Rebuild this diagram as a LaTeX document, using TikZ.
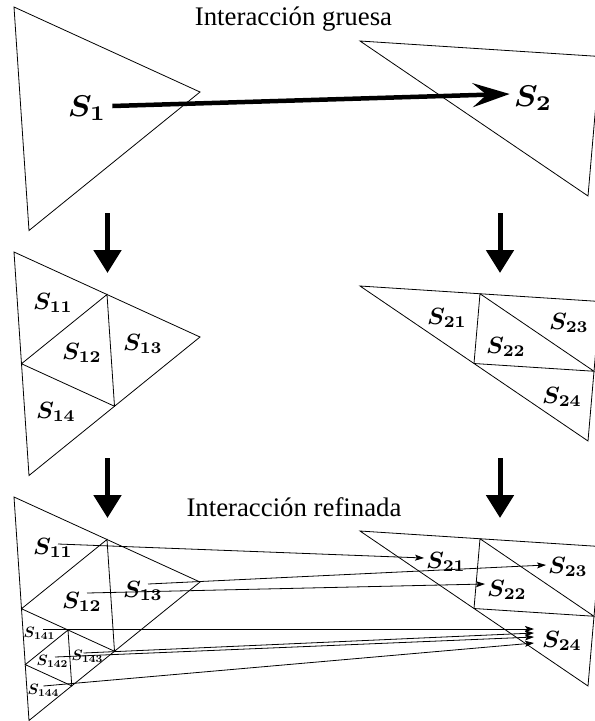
\documentclass[tikz,border=0pt]{standalone}
\usepackage[no-math]{fontspec}
\newfontfamily\titlefont{Liberation Serif}
\usetikzlibrary{calc,arrows.meta}
\newcommand{\labfont}{\boldmath}
\newcommand{\bigS}[1]{\scalebox{3.2}[3.0]{\labfont$S_{#1}$}}
\newcommand{\midS}[1]{\scalebox{2.4}[2.35]{\labfont$S_{#1}$}}
\newcommand{\smlS}[1]{\scalebox{1.5}[1.5]{\labfont$S_{#1}$}}
\begin{document}
\begin{tikzpicture}[x=1pt,y=-1pt,
  tri/.style={line width=0.8pt,line join=miter},
  lbl/.style={inner sep=0pt},
  title/.style={anchor=base,inner sep=0pt,font=\titlefont\fontsize{26.8}{30}\selectfont},
  bigarrow/.style={line width=4.5pt,-{Stealth[length=37pt,width=24pt,inset=14pt]}},
  downarrow/.style={line width=5pt,-{Triangle[length=23pt,width=27pt]}},
  thinarrow/.style={line width=0.8pt,-{Stealth[length=9pt,width=6pt,inset=2pt]}}]
\useasboundingbox (0,0) rectangle (595,721);
\clip (0,0) rectangle (595,721);
% level 1
\coordinate (A1) at (14,7);   \coordinate (B1) at (200,92);  \coordinate (C1) at (29,230.5);
\coordinate (D1) at (360,41); \coordinate (E1) at (600,56.5);\coordinate (F1) at (588,196);
% level 2
\coordinate (A2) at (14,252);  \coordinate (B2) at (200,337);  \coordinate (C2) at (29,475.5);
\coordinate (D2) at (360,286); \coordinate (E2) at (600,301.5);\coordinate (F2) at (588,441);
% level 3
\coordinate (A3) at (14,497);  \coordinate (B3) at (200,582);  \coordinate (C3) at (29,720.5);
\coordinate (D3) at (360,531); \coordinate (E3) at (600,546.5);\coordinate (F3) at (588,686);
% midpoints
\foreach \l in {2,3}{
  \coordinate (mAB\l) at ($(A\l)!0.5!(B\l)$);
  \coordinate (mAC\l) at ($(A\l)!0.5!(C\l)$);
  \coordinate (mBC\l) at ($(B\l)!0.5!(C\l)$);
  \coordinate (mDE\l) at ($(D\l)!0.5!(E\l)$);
  \coordinate (mDF\l) at ($(D\l)!0.5!(F\l)$);
  \coordinate (mEF\l) at ($(E\l)!0.5!(F\l)$);
}
\coordinate (p3) at ($(mAC3)!0.5!(mBC3)$);
\coordinate (q3) at ($(mAC3)!0.5!(C3)$);
\coordinate (r3) at ($(mBC3)!0.5!(C3)$);

\draw[tri] (A1)--(B1)--(C1)--cycle;
\draw[tri] (D1)--(E1)--(F1)--cycle;
\foreach \l in {2,3}{
  \draw[tri] (A\l)--(B\l)--(C\l)--cycle;
  \draw[tri] (mAB\l)--(mBC\l)--(mAC\l)--cycle;
  \draw[tri] (D\l)--(E\l)--(F\l)--cycle;
  \draw[tri] (mDE\l)--(mEF\l)--(mDF\l)--cycle;
}
\draw[tri] (p3)--(r3)--(q3)--cycle;

% titles
\node[title] (t1) at (293.5,25) {Interacción gruesa};
\node[title] (t2) at (294,516) {Interacción refinada};

% level 1 labels
\node[lbl] (s1) at (87,108) {\bigS{1}};
\node[lbl] (s2) at (533,98) {\bigS{2}};
\draw[bigarrow] ($(s1.east)+(6,-2)$) -- ($(s2.west)+(-4,-4)$);

% level 2 labels
\node[lbl] (b11) at (53,303) {\midS{11}};
\node[lbl] (b12) at (82,353) {\midS{12}};
\node[lbl] (b13) at (143,344) {\midS{13}};
\node[lbl] (b14) at (56,412) {\midS{14}};
\node[lbl] (b21) at (447,318) {\midS{21}};
\node[lbl] (b22) at (506,347) {\midS{22}};
\node[lbl] (b23) at (569,323) {\midS{23}};
\node[lbl] (b24) at (562,397) {\midS{24}};

% level 3 labels
\node[lbl] (c11) at (53,548) {\midS{11}};
\node[lbl] (c12) at (82,602) {\midS{12}};
\node[lbl] (c13) at (143,591) {\midS{13}};
\node[lbl] (c141) at (39.5,633) {\smlS{141}};
\node[lbl] (c142) at (52.5,661) {\smlS{142}};
\node[lbl] (c143) at (87.5,656) {\smlS{143}};
\node[lbl] (c144) at (43.5,690) {\smlS{144}};
\node[lbl] (c21) at (446,562) {\midS{21}};
\node[lbl] (c22) at (507,590) {\midS{22}};
\node[lbl] (c23) at (568,567) {\midS{23}};
\node[lbl] (c24) at (562,641) {\midS{24}};

% refinement arrows
\coordinate (v1s) at (107.5,213); \coordinate (v1e) at (107.5,273);
\coordinate (v2s) at (500,213);   \coordinate (v2e) at (500,273);
\coordinate (v3s) at (107.5,458); \coordinate (v3e) at (107.5,518);
\coordinate (v4s) at (500,458);   \coordinate (v4e) at (500,518);
\draw[downarrow] (v1s) -- (v1e);
\draw[downarrow] (v2s) -- (v2e);
\draw[downarrow] (v3s) -- (v3e);
\draw[downarrow] (v4s) -- (v4e);

% fine interactions
\draw[thinarrow] ($(c11)+(5,-4)$) -- ($(c21.west)+(-2,-4)$);
\draw[thinarrow] ($(c12)+(5,-9)$) -- ($(c22.west)+(-2,-6)$);
\draw[thinarrow] ($(c13)+(5,-7)$) -- ($(c23.west)+(-2,-2)$);
\draw[thinarrow] ($(c141)+(3.5,-4)$) -- ($(c24.west)+(-8,-12)$);
\draw[thinarrow] ($(c142)+(2.5,-4)$) -- ($(c24.west)+(-8,-4)$);
\draw[thinarrow] ($(c143)+(-4,-3)$) -- ($(c24.west)+(-8,-8)$);
\draw[thinarrow] ($(c144)+(0,-4)$) -- ($(c24.west)+(-8,2)$);
\end{tikzpicture}
\end{document}
